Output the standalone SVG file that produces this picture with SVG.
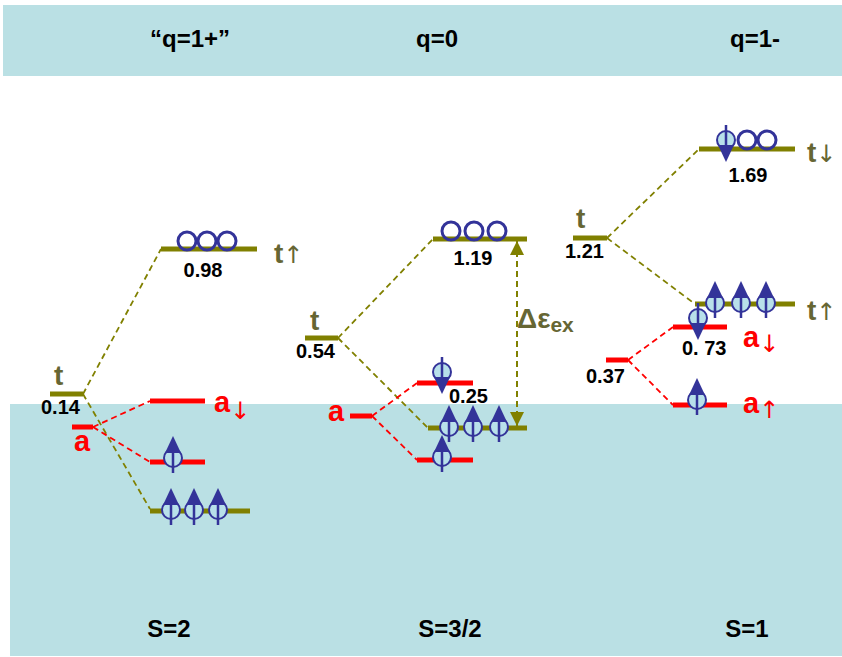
<svg xmlns="http://www.w3.org/2000/svg" xmlns:xlink="http://www.w3.org/1999/xlink" width="842" height="657" viewBox="0 0 842 657">
  <style>
    .band { fill: #bae0e4; }
    .lvl-t { stroke: #808000; stroke-width: 5; }
    .lvl-a { stroke: #ff0000; stroke-width: 5; }
    .dash-t { stroke: #808000; stroke-width: 1.8; stroke-dasharray: 6 4; fill: none; }
    .dash-a { stroke: #ff0000; stroke-width: 1.8; stroke-dasharray: 6 4; fill: none; }
    .gap { stroke: #808000; stroke-width: 2; stroke-dasharray: 6 4; fill: none; }
    text { font-family: "Liberation Sans", Arial, sans-serif; font-weight: bold; }
    .hdr { font-size: 24px; fill: #000; text-anchor: middle; }
    .num { font-size: 20px; fill: #000; }
    .lt { font-size: 28px; fill: #666633; }
    .la { font-size: 29px; fill: #ff0000; }
    .arr { font-family: "DejaVu Sans", sans-serif; font-size: 24px; font-weight: normal; }
    .hole { fill: none; stroke: #333399; stroke-width: 3; }
  </style>
  <defs>
    <!-- spin-up electron: filled circle, stem and arrowhead -->
    <g id="eUp">
      <circle r="9" fill="#b8e0ea" stroke="#333399" stroke-width="2"/>
      <line x1="0" y1="-12" x2="0" y2="15" stroke="#333399" stroke-width="2.5"/>
      <polygon points="0,-22 -8,-5 8,-5" fill="#333399"/>
    </g>
    <g id="eDown">
      <use xlink:href="#eUp" transform="rotate(180)"/>
    </g>
    <marker id="tri" viewBox="0 0 14 14" refX="14" refY="7" markerWidth="14" markerHeight="14" markerUnits="userSpaceOnUse" orient="auto-start-reverse">
      <path d="M0,0 L14,7 L0,14 z" fill="#808000"/>
    </marker>
  </defs>

  <!-- background bands -->
  <rect class="band" x="3" y="5" width="839" height="71"/>
  <rect class="band" x="10" y="404" width="832" height="252"/>

  <!-- column headers and spin totals -->
  <g id="headers">
    <text class="hdr" x="190" y="47">“q=1+”</text>
    <text class="hdr" x="437" y="47">q=0</text>
    <text class="hdr" x="755" y="47">q=1-</text>
    <text class="hdr" x="169" y="637">S=2</text>
    <text class="hdr" x="450" y="637">S=3/2</text>
    <text class="hdr" x="747" y="637">S=1</text>
  </g>

  <!-- correlation lines between parent and split levels -->
  <g id="connectors">
    <path class="dash-t" d="M83,394 L161,249"/>
    <path class="dash-t" d="M83,394 L150,509"/>
    <path class="dash-a" d="M93,427 L150,401"/>
    <path class="dash-a" d="M93,427 L150,462"/>

    <path class="dash-t" d="M338,338 L433,239"/>
    <path class="dash-t" d="M338,338 L428,428"/>
    <path class="dash-a" d="M372,416 L417,383"/>
    <path class="dash-a" d="M372,416 L417,460"/>

    <path class="dash-t" d="M607,238 L699,149"/>
    <path class="dash-t" d="M607,238 L695,304"/>
    <path class="dash-a" d="M628,360 L673,327"/>
    <path class="dash-a" d="M628,360 L673,405"/>

    <path class="gap" d="M517,241 L517,426" marker-start="url(#tri)" marker-end="url(#tri)"/>
  </g>

  <!-- q=1+ column -->
  <g id="q1p-t">
    <line class="lvl-t" x1="50" y1="394" x2="83" y2="394"/>
    <text class="lt" x="54" y="385">t</text>
    <text class="num" x="41" y="414">0.14</text>
  </g>
  <g id="q1p-a">
    <line class="lvl-a" x1="72" y1="427" x2="93" y2="427"/>
    <text class="la" x="74" y="451">a</text>
  </g>
  <g id="q1p-tup">
    <line class="lvl-t" x1="161" y1="249" x2="257" y2="249"/>
    <circle class="hole" cx="187" cy="241" r="9"/>
    <circle class="hole" cx="207" cy="241" r="9"/>
    <circle class="hole" cx="227" cy="241" r="9"/>
    <text class="num" x="203" y="277" text-anchor="middle">0.98</text>
    <text class="lt" x="274" y="263" font-size="26">t<tspan class="arr">↑</tspan></text>
  </g>
  <g id="q1p-adn">
    <line class="lvl-a" x1="150" y1="401" x2="205" y2="401"/>
    <text class="la" x="214" y="412" font-size="28">a<tspan class="arr" dy="7">↓</tspan></text>
  </g>
  <g id="q1p-aup">
    <line class="lvl-a" x1="150" y1="462" x2="205" y2="462"/>
    <use xlink:href="#eUp" x="173" y="458"/>
  </g>
  <g id="q1p-tlow">
    <line class="lvl-t" x1="150" y1="511" x2="250" y2="511"/>
    <use xlink:href="#eUp" x="171" y="510"/>
    <use xlink:href="#eUp" x="194" y="510"/>
    <use xlink:href="#eUp" x="218" y="510"/>
  </g>

  <!-- q=0 column -->
  <g id="q0-t">
    <line class="lvl-t" x1="305" y1="338" x2="338" y2="338"/>
    <text class="lt" x="310" y="330">t</text>
    <text class="num" x="296" y="358">0.54</text>
  </g>
  <g id="q0-a">
    <line class="lvl-a" x1="350" y1="416" x2="372" y2="416"/>
    <text class="la" x="328" y="421" font-size="28">a</text>
  </g>
  <g id="q0-tup">
    <line class="lvl-t" x1="433" y1="239" x2="527" y2="239"/>
    <circle class="hole" cx="451" cy="231" r="9"/>
    <circle class="hole" cx="474" cy="231" r="9"/>
    <circle class="hole" cx="497" cy="231" r="9"/>
    <text class="num" x="473" y="265" text-anchor="middle">1.19</text>
  </g>
  <g id="q0-adn">
    <line class="lvl-a" x1="417" y1="383" x2="473" y2="383"/>
    <use xlink:href="#eDown" x="442" y="372"/>
    <text class="num" x="449" y="403">0.25</text>
  </g>
  <g id="q0-tlow">
    <line class="lvl-t" x1="428" y1="428" x2="527" y2="428"/>
    <use xlink:href="#eUp" x="449" y="427"/>
    <use xlink:href="#eUp" x="473" y="427"/>
    <use xlink:href="#eUp" x="499" y="427"/>
  </g>
  <g id="q0-aup">
    <line class="lvl-a" x1="417" y1="460" x2="473" y2="460"/>
    <use xlink:href="#eUp" x="442" y="457"/>
  </g>
  <g id="q0-gap">
    <text x="517" y="328" fill="#666633" font-size="28" font-weight="normal">Δε<tspan font-size="21" font-weight="bold" dy="4">ex</tspan></text>
  </g>

  <!-- q=1- column -->
  <g id="q1m-t">
    <line class="lvl-t" x1="573" y1="238" x2="607" y2="238"/>
    <text class="lt" x="576" y="228">t</text>
    <text class="num" x="565" y="258">1.21</text>
  </g>
  <g id="q1m-a">
    <line class="lvl-a" x1="606" y1="360" x2="628" y2="360"/>
    <text class="num" x="586" y="383">0.37</text>
  </g>
  <g id="q1m-tdn">
    <line class="lvl-t" x1="699" y1="149" x2="795" y2="149"/>
    <use xlink:href="#eDown" x="726" y="140"/>
    <circle class="hole" cx="747" cy="140" r="9"/>
    <circle class="hole" cx="767" cy="140" r="9"/>
    <text class="num" x="748" y="182" text-anchor="middle">1.69</text>
    <text class="lt" x="807" y="162" font-size="26">t<tspan class="arr">↓</tspan></text>
  </g>
  <g id="q1m-tup">
    <line class="lvl-t" x1="695" y1="304" x2="795" y2="304"/>
    <use xlink:href="#eUp" x="715" y="303"/>
    <use xlink:href="#eUp" x="741" y="303"/>
    <use xlink:href="#eUp" x="766" y="303"/>
    <text class="lt" x="807" y="320" font-size="26">t<tspan class="arr">↑</tspan></text>
  </g>
  <g id="q1m-adn">
    <line class="lvl-a" x1="673" y1="327" x2="727" y2="327"/>
    <use xlink:href="#eDown" x="698" y="318"/>
    <text class="num" x="682" y="355">0. 73</text>
    <text class="la" x="743" y="347" font-size="28">a<tspan class="arr" dy="5">↓</tspan></text>
  </g>
  <g id="q1m-aup">
    <line class="lvl-a" x1="673" y1="405" x2="727" y2="405"/>
    <use xlink:href="#eUp" x="697" y="400"/>
    <text class="la" x="743" y="413" font-size="28">a<tspan class="arr" dy="5">↑</tspan></text>
  </g>
</svg>
